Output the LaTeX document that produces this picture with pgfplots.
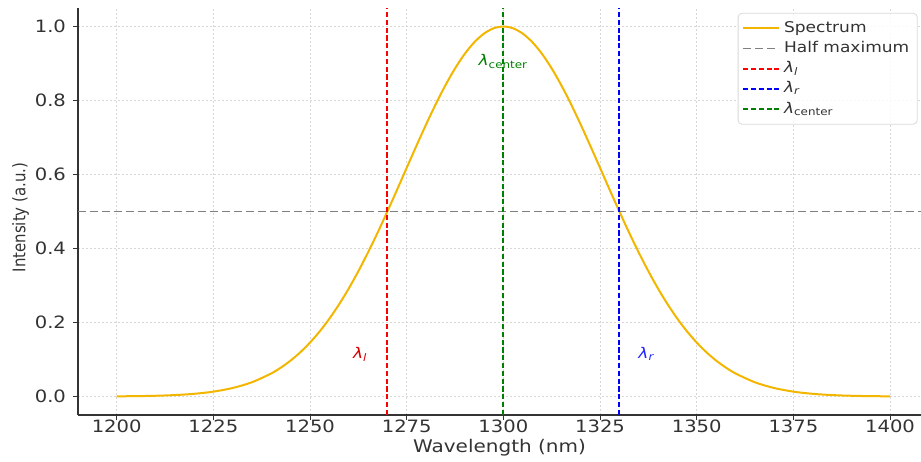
\documentclass[border=0pt]{standalone}
\usepackage{fontspec}
\setmainfont{DejaVu Sans}[FakeStretch=1.15]
\newfontfamily\ylfont{DejaVu Sans}[FakeStretch=0.86]
\usepackage{pgfplots}
\pgfplotsset{compat=1.18}

\definecolor{spec}{RGB}{243,182,0}
\definecolor{gridc}{RGB}{215,215,215}
\definecolor{mgreen}{RGB}{0,128,0}

\pgfplotstableread{
x y
1200 0.00045
1205 0.00096
1210 0.00195
1215 0.00383
1220 0.00723
1225 0.01314
1230 0.0230
1235 0.0386
1240 0.0625
1242.5 0.0784
1245 0.0973
1247.5 0.1197
1250 0.1458
1252.5 0.1759
1255 0.2102
1257.5 0.2488
1260 0.2916
1262.5 0.3386
1265 0.3893
1267.5 0.4433
1270 0.5000
1272.5 0.5585
1275 0.6180
1277.5 0.6771
1280 0.7349
1282.5 0.7899
1285 0.8409
1287.5 0.8866
1290 0.9259
1292.5 0.9576
1295 0.9809
1297.5 0.9952
1300 1.0000
1302.5 0.9952
1305 0.9809
1307.5 0.9576
1310 0.9259
1312.5 0.8866
1315 0.8409
1317.5 0.7899
1320 0.7349
1322.5 0.6771
1325 0.6180
1327.5 0.5585
1330 0.5000
1332.5 0.4433
1335 0.3893
1337.5 0.3386
1340 0.2916
1342.5 0.2488
1345 0.2102
1347.5 0.1759
1350 0.1458
1352.5 0.1197
1355 0.0973
1357.5 0.0784
1360 0.0625
1365 0.0386
1370 0.0230
1375 0.01314
1380 0.00723
1385 0.00383
1390 0.00195
1395 0.00096
1400 0.00045
}\spectrum

\begin{document}
\begin{tikzpicture}
\begin{axis}[
  scale only axis, width=421.5pt, height=203.5pt,
  xmin=1190, xmax=1408, ymin=-0.05, ymax=1.05,
  axis x line*=bottom, axis y line*=left,
  axis line style={line width=0.6pt, black!80},
  font=\fontsize{8.5}{10}\selectfont,
  xtick={1200,1225,...,1400},
  ytick={0,0.2,...,1.0},
  yticklabel style={/pgf/number format/.cd, fixed, fixed zerofill, precision=1},
  /pgf/number format/assume math mode=true,
  xticklabel style={/pgf/number format/1000 sep={}, yshift=3.5pt},
  tick align=outside, major tick length=2.5pt,
  tick style={black!80, line width=0.5pt},
  ticklabel style={text=black!80},
  grid=major,
  major grid style={gridc, line width=0.4pt, dash pattern=on 1pt off 1pt},
  xlabel={Wavelength (nm)}, ylabel={Intensity (a.u.)},
  xlabel style={yshift=3.5pt, text=black!80, font=\fontsize{8.7}{10}\selectfont},
  ylabel style={yshift=-4pt, xshift=-3pt, text=black!80, font=\ylfont\fontsize{8.7}{10}\selectfont},
  legend style={at={(0.996,0.988)}, anchor=north east,
    draw=black!15, rounded corners=2pt, fill=white, fill opacity=0.85, text opacity=1,
    font=\fontsize{7.4}{9}\selectfont, row sep=-1pt, inner sep=2pt,
    cells={anchor=west}, text=black!80},
  legend image code/.code={\draw[#1] (0pt,0pt) -- (18pt,0pt);},
  clip=false,
]
\addplot[spec, line width=1pt, smooth] table {\spectrum};
\addlegendentry{Spectrum}
\addplot[gray, line width=0.8pt, dash pattern=on 4pt off 2pt] coordinates {(1190,0.5) (1408,0.5)};
\addlegendentry{Half maximum}
\addplot[red, line width=1pt, dash pattern=on 2.6pt off 1.3pt] coordinates {(1270,-0.05) (1270,1.05)};
\addlegendentry{{\itshape λ}\textsubscript{\itshape l}}
\addplot[blue, line width=1pt, dash pattern=on 2.6pt off 1.3pt] coordinates {(1330,-0.05) (1330,1.05)};
\addlegendentry{{\itshape λ}\textsubscript{\itshape r}}
\addplot[mgreen, line width=1pt, dash pattern=on 2.6pt off 1.3pt] coordinates {(1300,-0.05) (1300,1.05)};
\addlegendentry{{\itshape λ}\textsubscript{center}}
\node[text=red!85!black, font=\fontsize{7.4}{9}\selectfont] at (axis cs:1263,0.115) {{\itshape λ}\textsubscript{\itshape l}};
\node[text=blue!85!white, font=\fontsize{7.4}{9}\selectfont] at (axis cs:1337,0.115) {{\itshape λ}\textsubscript{\itshape r}};
\node[text=mgreen, font=\fontsize{7.4}{9}\selectfont] at (axis cs:1300,0.905) {{\itshape λ}\textsubscript{center}};
\end{axis}
\pgfresetboundingbox
\path ([shift={(-39pt,-23pt)}]current axis.south west) rectangle ([shift={(0pt,4pt)}]current axis.north east);
\end{tikzpicture}
\end{document}
